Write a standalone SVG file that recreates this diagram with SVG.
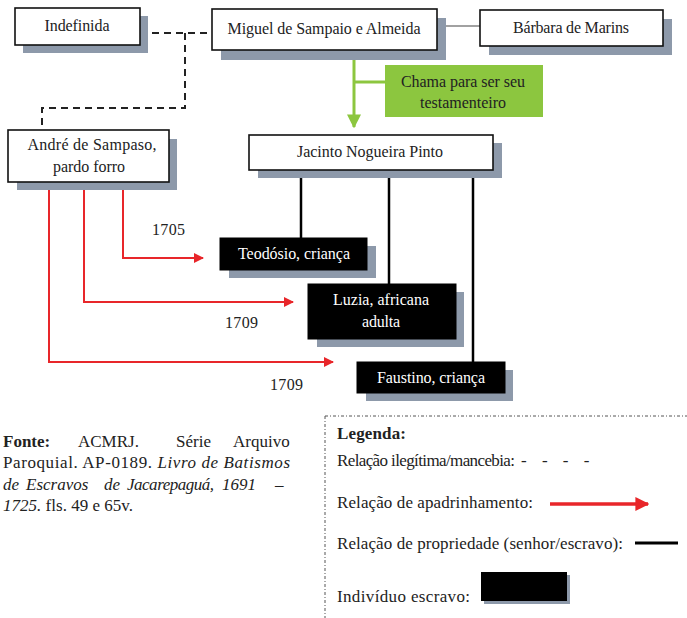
<svg xmlns="http://www.w3.org/2000/svg" width="687" height="618" viewBox="0 0 687 618" font-family="'Liberation Serif', 'Times New Roman', serif">
<defs>
<style>
text{font-family:'Liberation Serif','Times New Roman',serif;font-size:16px;fill:#222}
.l{font-size:17px}
.box{fill:#fff;stroke:#111;stroke-width:1.6}
.slave{fill:#000;stroke:#000;stroke-width:1}
.sh{fill:#8d99aa}
.w{fill:#fff;text-anchor:middle}
.c{text-anchor:middle}
.dash{fill:none;stroke:#222;stroke-width:2;stroke-dasharray:7,5}
.red{fill:none;stroke:#e8262a;stroke-width:2}
.own{fill:none;stroke:#000;stroke-width:2.5}
.b{font-weight:bold}
.i{font-style:italic}
</style>
<marker id="ra" viewBox="0 0 10 10" refX="9" refY="5" markerWidth="10" markerHeight="10" markerUnits="userSpaceOnUse" orient="auto"><path d="M0,0 L10,5 L0,10 z" fill="#e8262a"/></marker>
<marker id="rb" viewBox="0 0 10 10" refX="9" refY="5" markerWidth="14" markerHeight="14" markerUnits="userSpaceOnUse" orient="auto"><path d="M0,0 L10,5 L0,10 z" fill="#e8262a"/></marker>
<marker id="ga" viewBox="0 0 10 10" refX="9" refY="5" markerWidth="14" markerHeight="14" markerUnits="userSpaceOnUse" orient="auto"><path d="M0,0 L10,5 L0,10 z" fill="#8cc63f"/></marker>
</defs>

<g id="connectors">
<path class="dash" d="M140,33 H212"/>
<path class="dash" d="M185,33 V108 H42 V130"/>
<path d="M437,26 H480" fill="none" stroke="#444" stroke-width="1.2"/>
<path d="M354,51 V127" fill="none" stroke="#8cc63f" stroke-width="3" marker-end="url(#ga)"/>
<path d="M354,82 H386" fill="none" stroke="#8cc63f" stroke-width="3"/>
<path class="own" d="M301,170 V238"/>
<path class="own" d="M389,170 V284"/>
<path class="own" d="M473,170 V362"/>
<path class="red" d="M123,182 V258 H203" marker-end="url(#ra)"/>
<path class="red" d="M84,182 V302 H293" marker-end="url(#ra)"/>
<path class="red" d="M49,182 V362 H333" marker-end="url(#ra)"/>
</g>

<g id="indefinida">
<rect class="sh" x="23" y="16" width="125" height="37"/>
<rect class="box" x="15" y="8" width="125" height="37"/>
<text class="c" x="77" y="31" textLength="65">Indefinida</text>
</g>
<g id="miguel">
<rect class="sh" x="221" y="18" width="225" height="42"/>
<rect class="box" x="212" y="9" width="225" height="41"/>
<text class="c" x="324" y="34" textLength="193">Miguel de Sampaio e Almeida</text>
</g>
<g id="barbara">
<rect class="sh" x="489" y="19" width="183" height="36"/>
<rect class="box" x="480" y="10" width="183" height="36"/>
<text class="c" x="571" y="33" textLength="116">Bárbara de Marins</text>
</g>
<g id="chama">
<rect x="385" y="65" width="158" height="52" fill="#8cc63f"/>
<text class="c" x="463" y="87" textLength="124">Chama para ser seu</text>
<text class="c" x="463" y="108" textLength="86">testamenteiro</text>
</g>
<g id="andre">
<rect class="sh" x="17" y="139" width="160" height="51"/>
<rect class="box" x="8" y="130" width="161" height="52"/>
<text class="c" x="92" y="150" textLength="129">André de Sampaso,</text>
<text class="c" x="89" y="172" textLength="72">pardo forro</text>
</g>
<g id="jacinto">
<rect class="sh" x="258" y="143" width="244" height="35"/>
<rect class="box" x="249" y="135" width="244" height="35"/>
<text class="c" x="370" y="157" textLength="146">Jacinto Nogueira Pinto</text>
</g>
<g id="teodosio">
<rect class="sh" x="229" y="246" width="147" height="32"/>
<rect class="slave" x="220" y="238" width="147" height="32"/>
<text class="w" x="294" y="259" textLength="112">Teodósio, criança</text>
</g>
<g id="luzia">
<rect class="sh" x="317" y="292" width="147" height="55"/>
<rect class="slave" x="308" y="284" width="148" height="55"/>
<text class="w" x="381" y="305" textLength="96">Luzia, africana</text>
<text class="w" x="381" y="327" textLength="38">adulta</text>
</g>
<g id="faustino">
<rect class="sh" x="366" y="370" width="147" height="31"/>
<rect class="slave" x="357" y="362" width="148" height="31"/>
<text class="w" x="431" y="383" textLength="108">Faustino, criança</text>
</g>

<g id="labels">
<text x="152" y="235" textLength="33">1705</text>
<text x="225" y="328" textLength="33">1709</text>
<text x="270" y="390" textLength="33">1709</text>
</g>

<g id="fonte">
<text x="3" y="447" class="b l">Fonte:</text>
<text x="78" y="447" class="l">ACMRJ.</text>
<text x="176" y="447" class="l">Série</text>
<text x="233" y="447" class="l">Arquivo</text>
<text x="3" y="468" class="l" textLength="287">Paroquial. AP-0189. <tspan class="i">Livro de Batismos</tspan></text>
<text x="3" y="490" class="i l">de</text>
<text x="26" y="490" class="i l">Escravos</text>
<text x="104" y="490" class="i l">de</text>
<text x="127" y="490" class="i l" textLength="87">Jacarepaguá,</text>
<text x="222" y="490" class="i l">1691</text>
<text x="275" y="490" class="i l">–</text>
<text x="3" y="511" class="l" textLength="130"><tspan class="i">1725.</tspan> fls. 49 e 65v.</text>
</g>

<g id="legenda">
<path d="M325,416 H687 M325,416 V618" fill="none" stroke="#555" stroke-width="1" stroke-dasharray="3,2,1,2"/>
<text x="337" y="439" class="b l" textLength="69">Legenda:</text>
<text x="337" y="466" class="l" textLength="178">Relação ilegítima/mancebia:</text>
<text x="521" y="466" class="l" style="word-spacing:11px">- - - -</text>
<text x="337" y="508" class="l" textLength="196">Relação de apadrinhamento:</text>
<path d="M550,504 H648" fill="none" stroke="#e8262a" stroke-width="3.5" marker-end="url(#rb)"/>
<text x="337" y="549" class="l" textLength="286">Relação de propriedade (senhor/escravo):</text>
<path d="M635,543 H678" fill="none" stroke="#000" stroke-width="3"/>
<text x="337" y="602" class="l" textLength="133">Indivíduo escravo:</text>
<rect x="484" y="575" width="86" height="29" class="sh"/>
<rect x="481" y="572" width="86" height="29" fill="#000"/>
</g>
</svg>
